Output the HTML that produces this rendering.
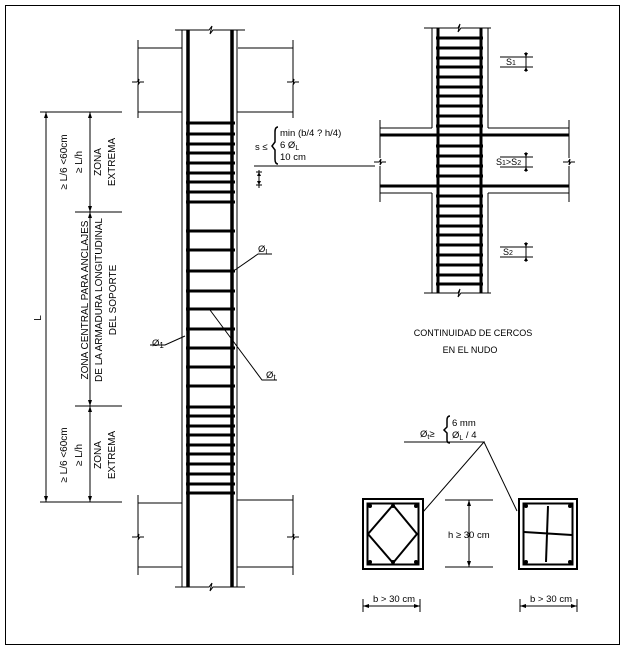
<!DOCTYPE html>
<html><head><meta charset="utf-8"><style>
html,body{margin:0;padding:0;background:#fff;}
svg{display:block;}
text{font-family:"Liberation Sans",Arial,sans-serif;fill:#000;}
</style></head><body>
<svg width="626" height="650" viewBox="0 0 626 650" xmlns="http://www.w3.org/2000/svg">
<rect x="5.5" y="5.5" width="614" height="639" fill="none" stroke="#000" stroke-width="1"/>
<g stroke="#000" stroke-width="1" fill="none">
<path d="M182 30V587M237 30V587"/>
<path d="M175 30H209l3 -4 -2 8 3 -4H245"/>
<path d="M175 587H209l3 -4 -2 8 3 -4H245"/>
<path d="M138 48H182M238 48H293M138 40V80M138 85V118M293 40V80M293 85V118"/>
<path d="M132 82H137l2 -3 -1 6 2-3H144M287 82H292l2 -3 -1 6 2-3H299"/>
<path d="M138 112H182M237 112H293"/>
<path d="M138 503H182M237 500H293M138 495V535M138 540V575M293 495V535M293 540V575"/>
<path d="M132 537H137l2 -3 -1 6 2-3H144M287 537H292l2 -3 -1 6 2-3H299"/>
<path d="M138 567H182M237 567H293"/>
<path d="M46 112V502M90 112V502M40 112H122M75 212H122M75 406H122M40 502H122"/>
<path d="M235 270L258 254H272M210 310L262 380H277M185 336L165 345H150"/>
<path d="M254 166H375M256 172H262M256 185H262"/>
</g>
<g fill="#000">
<path d="M44 118L46 112L48 118ZM44 496L46 502L48 496ZM88 118L90 112L92 118ZM88 206L90 212L92 206ZM88 218L90 212L92 218ZM88 400L90 406L92 400ZM88 412L90 406L92 412ZM88 496L90 502L92 496Z"/>
<path d="M257 176L259 172L261 176ZM257 181L259 185L261 181Z"/>
</g>
<line x1="259" y1="170" x2="259" y2="188" stroke="#000"/>
<g stroke="#000" stroke-width="3.5">
<path d="M188 30V587M232 30V587"/>
</g>
<g stroke="#000" stroke-width="3">
<path d="M186 123H235M186 134H235M186 144H235M186 153H235M186 163H235M186 173H235M186 182H235M186 192H235M186 202H235M186 231H235M186 250H235M186 271H235M186 291H235M186 309H235M186 329H235M186 348H235M186 367H235M186 386H235M186 407H235M186 416H235M186 426H235M186 435H235M186 445H235M186 454H235M186 464H235M186 474H235M186 484H235M186 493H235"/>
</g>
<g font-size="10">
<text transform="translate(67,162) rotate(-90)" text-anchor="middle">&#8805; L/6  &lt;60cm</text>
<text transform="translate(82,162) rotate(-90)" text-anchor="middle">&#8805; L/h</text>
<text transform="translate(101,162) rotate(-90)" text-anchor="middle">ZONA</text>
<text transform="translate(115,162) rotate(-90)" text-anchor="middle">EXTREMA</text>
<text transform="translate(67,455) rotate(-90)" text-anchor="middle">&#8805; L/6  &lt;60cm</text>
<text transform="translate(82,455) rotate(-90)" text-anchor="middle">&#8805; L/h</text>
<text transform="translate(101,455) rotate(-90)" text-anchor="middle">ZONA</text>
<text transform="translate(115,455) rotate(-90)" text-anchor="middle">EXTREMA</text>
<text transform="translate(88,300) rotate(-90)" text-anchor="middle">ZONA CENTRAL PARA ANCLAJES</text>
<text transform="translate(102,300) rotate(-90)" text-anchor="middle">DE LA ARMADURA LONGITUDINAL</text>
<text transform="translate(116,300) rotate(-90)" text-anchor="middle">DEL SOPORTE</text>
<text transform="translate(41,318) rotate(-90)" text-anchor="middle">L</text>
</g>
<g font-size="9.5">
<text x="280" y="136">min (b/4 ? h/4)</text>
<text x="280" y="148">6 &#216;<tspan font-size="7" dy="2">L</tspan></text>
<text x="280" y="160">10 cm</text>
<text x="255" y="150">s &#8804;</text>
<text x="258" y="252">&#216;<tspan font-size="7" dy="2">L</tspan></text>
<text x="266" y="378">&#216;<tspan font-size="8" dy="2">t</tspan></text>
<text x="152" y="346">&#216;<tspan font-size="8" dy="2">1</tspan></text>
</g>
<path d="M278 127Q275 127 275 132V142L272 146L275 150V159Q275 164 278 164" fill="none" stroke="#000" stroke-width="1.5"/>
<g stroke="#000" stroke-width="1" fill="none">
<path d="M432 28V128M488 28V128M432 193V293M488 193V293"/>
<path d="M424 28H458l2 -4 -2 8 3 -4H491M424 293H458l2 -4 -2 8 3 -4H491"/>
<path d="M380 128H432M488 128H569M380 193H432M488 193H569M380 120V158M380 166V202M569 120V158M569 166V202"/>
<path d="M374 162H379l2 -3 -1 6 2-3H386M563 162H568l2 -3 -1 6 2-3H575"/>
<path d="M500 57H533M500 67H533M526 52V72M500 157H533M500 167H533M526 152V172M500 247H533M500 257H533M526 242V262"/>
</g>
<g fill="#000">
<path d="M524 53L526 57L528 53ZM524 71L526 67L528 71ZM524 153L526 157L528 153ZM524 171L526 167L528 171ZM524 243L526 247L528 243ZM524 261L526 257L528 261Z"/>
</g>
<g stroke="#000" stroke-width="3">
<path d="M438 28V293M481 28V293M380 135H569M380 186H569"/>
<path d="M436 38H483M436 48H483M436 58H483M436 67H483M436 77H483M436 87H483M436 96H483M436 106H483M436 116H483M436 126H483M436 146H483M436 156H483M436 166H483M436 176H483M436 196H483M436 206H483M436 216H483M436 226H483M436 235H483M436 245H483M436 255H483M436 265H483M436 275H483M436 284H483"/>
</g>
<g font-size="9">
<text x="506" y="65">S<tspan font-size="7">1</tspan></text>
<text x="496" y="165">S<tspan font-size="7">1</tspan>&gt;S<tspan font-size="7">2</tspan></text>
<text x="503" y="255">S<tspan font-size="7">2</tspan></text>
<text x="473" y="336" text-anchor="middle">CONTINUIDAD DE CERCOS</text>
<text x="470" y="353" text-anchor="middle">EN EL NUDO</text>
</g>
<g stroke="#000" fill="none">
<rect x="363" y="499" width="60" height="70" stroke-width="2"/>
<rect x="367.5" y="503.5" width="51" height="61" stroke-width="2"/>
<rect x="519" y="499" width="58" height="70" stroke-width="2"/>
<rect x="523.5" y="503.5" width="49" height="61" stroke-width="2"/>
<path d="M393 505L417 534L393 563L368 534Z" stroke-width="2"/>
<path d="M548 506L546 562M524 532L572 535" stroke-width="2"/>
<path d="M404 442H484L423 512M484 442L517 511" stroke-width="1"/>
<path d="M445 500H493M445 567H493M469 500V567" stroke-width="1"/>
<path d="M363 606H420M363 599V612M420 599V612M520 606H577M520 599V612M577 599V612" stroke-width="1"/>
</g>
<g fill="#000">
<path d="M467 506L469 500L471 506ZM467 561L469 567L471 561Z"/>
<path d="M369 604L363 606L369 608ZM414 604L420 606L414 608ZM526 604L520 606L526 608ZM571 604L577 606L571 608Z"/>
<circle cx="370" cy="506" r="2"/><circle cx="416" cy="506" r="2"/><circle cx="370" cy="562" r="2"/><circle cx="416" cy="562" r="2"/><circle cx="393" cy="506" r="2"/><circle cx="393" cy="562" r="2"/>
<circle cx="526" cy="506" r="2"/><circle cx="570" cy="506" r="2"/><circle cx="526" cy="562" r="2"/><circle cx="570" cy="562" r="2"/>
</g>
<g font-size="9.5">
<text x="448" y="538">h &#8805; 30 cm</text>
<text x="373" y="602">b &gt; 30 cm</text>
<text x="530" y="602">b &gt; 30 cm</text>
<text x="420" y="437">&#216;<tspan font-size="7" dy="2">t</tspan><tspan dy="-2">&#8805;</tspan></text>
<text x="452" y="426">6 mm</text>
<text x="452" y="438">&#216;<tspan font-size="7" dy="2">L</tspan><tspan dy="-2"> / 4</tspan></text>
</g>
<path d="M450 416Q447 416 447 420V427L444 430L447 433V440Q447 443 450 443" fill="none" stroke="#000" stroke-width="1.5"/>
</svg>
</body></html>
